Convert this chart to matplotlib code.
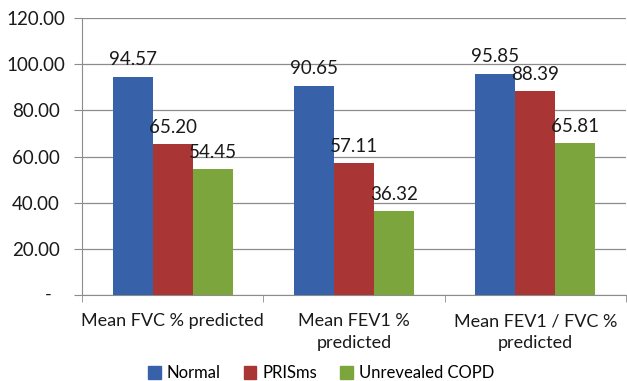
import matplotlib.pyplot as plt
import numpy as np
from matplotlib.patches import Patch
from matplotlib.transforms import blended_transform_factory

plt.rcParams['font.family'] = ['Lato', 'DejaVu Sans']

# spirometry means per group
categories = ["Mean FVC % predicted", "Mean FEV1 %\npredicted", "Mean FEV1 / FVC %\npredicted"]
normal = [94.57, 90.65, 95.85]
prisms = [65.20, 57.11, 88.39]
copd = [54.45, 36.32, 65.81]
series_names = ["Normal", "PRISms", "Unrevealed COPD"]
yticks = [0, 20, 40, 60, 80, 100, 120]

colors = ["#3762AA", "#AA3535", "#7CA53D"]

fig = plt.figure(figsize=(6.27, 3.81), dpi=100)
ax = fig.add_axes([82 / 627, 86 / 381, 544 / 627, 277 / 381])

x = np.arange(len(categories))
w = 0.22
for i, (vals, c) in enumerate(zip([normal, prisms, copd], colors)):
    bars = ax.bar(x + (i - 1) * w, vals, width=w, color=c, zorder=3)
    for b, v in zip(bars, vals):
        ax.annotate(f"{v:.2f}", (b.get_x() + b.get_width() / 2, v),
                    xytext=(0, 6), textcoords="offset points",
                    ha="center", va="bottom", fontsize=13.5, color="#1a1a1a")

ax.set_xlim(-0.5, 2.5)
ax.set_ylim(0, 120)

# y axis: centred number labels, dash for zero
ax.set_yticks(yticks)
ax.set_yticklabels([""] + [f"{t:.2f}" for t in yticks[1:]], fontsize=13.5, color="#1a1a1a")
for lbl in ax.get_yticklabels():
    lbl.set_horizontalalignment("center")
ax.tick_params(axis="y", length=6, color="#8c8c8c", pad=27)
trans = blended_transform_factory(fig.transFigure, ax.transData)
ax.text(48 / 627, 0, "-", transform=trans, ha="center", va="center", fontsize=13, color="#1a1a1a")

ax.grid(axis="y", color="#8c8c8c", linewidth=0.9, zorder=0)

# x axis: category labels with boundary ticks
ax.set_xticks(x)
ax.set_xticklabels(categories, fontsize=13, color="#1a1a1a", linespacing=1.45)
ax.tick_params(axis="x", length=0, pad=13)
ax.set_xticks([-0.5, 0.5, 1.5, 2.5], minor=True)
ax.tick_params(axis="x", which="minor", length=5, color="#8c8c8c")

for s in ["top", "right"]:
    ax.spines[s].set_visible(False)
for s in ["left", "bottom"]:
    ax.spines[s].set_color("#8c8c8c")

handles = [Patch(color=c, label=n) for c, n in zip(colors, series_names)]
fig.legend(handles=handles, loc="lower center", bbox_to_anchor=(0.512, -0.04), ncol=3,
           frameon=False, fontsize=12, handlelength=0.75, handleheight=0.75,
           handletextpad=0.35, columnspacing=1.4)

fig.savefig("out.png", dpi=100)
